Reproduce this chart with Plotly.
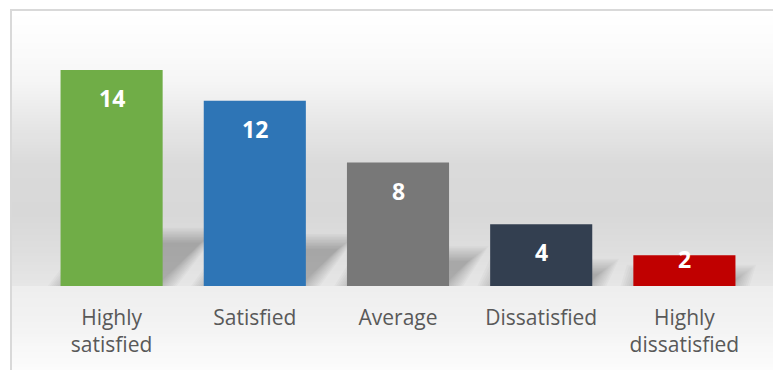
import plotly.graph_objects as go

# Survey results
categories = ["Highly<br>satisfied", "Satisfied", "Average", "Dissatisfied", "Highly<br>dissatisfied"]
counts = [14, 12, 8, 4, 2]
bar_colors = ["#70ad47", "#2e75b6", "#787878", "#333f50", "#c00000"]

W, H = 773, 370
M_L, M_R, M_T, M_B = 40, 17, 39, 84
PW = W - M_L - M_R
PH = H - M_T - M_B
Y_MAX = 16
N = len(counts)
PX_PER_CAT = PW / N
PX_PER_UNIT = PH / Y_MAX


def px_to_paper_x(px):
    return (px - M_L) / PW


def px_to_paper_y(py):
    return (H - M_B - py) / PH


fig = go.Figure()
fig.add_trace(go.Bar(
    x=list(range(N)),
    y=counts,
    marker=dict(color=bar_colors, line=dict(width=0)),
    width=0.713,
    hoverinfo="skip",
))

shapes = []

# vertical background gradient (white -> light grey -> near white)
stops = [(10, 255), (40, 252), (80, 246), (120, 232), (165, 218), (215, 216),
         (250, 222), (286, 230), (287, 238), (320, 242), (370, 252)]


def grey_at(py):
    for (y0, c0), (y1, c1) in zip(stops, stops[1:]):
        if y0 <= py <= y1:
            t = (py - y0) / (y1 - y0) if y1 > y0 else 0
            return round(c0 + (c1 - c0) * t)
    return stops[-1][1]


step = 3
for py in range(10, H, step):
    g = grey_at(py + step / 2)
    shapes.append(dict(type="rect", xref="paper", yref="paper", layer="below",
                       x0=px_to_paper_x(11), x1=px_to_paper_x(W + 2),
                       y0=px_to_paper_y(min(py + step, H + 2)), y1=px_to_paper_y(py),
                       line=dict(width=0), fillcolor=f"rgb({g},{g},{g})"))

# soft cast shadow behind each bar, built from stacked translucent layers
half = 0.713 / 2
for i, v in enumerate(counts):
    dx = v * 0.022
    top = v * 0.2
    for k in range(11):
        rx = k * 2.0 / PX_PER_CAT
        ry = k * 1.5 / PX_PER_UNIT
        x0 = i - half + 0.05 - rx
        x1 = i + half - 0.04 + rx
        path = (f"M {x0},0 L {x1},0 "
                f"L {x1 + dx},{top + ry} L {x0 + dx},{top + ry} Z")
        shapes.append(dict(type="path", path=path, xref="x", yref="y", layer="below",
                           fillcolor="rgba(0,0,0,0.024)", line=dict(width=0)))

# chart frame (left and top edges)
shapes.append(dict(type="line", xref="paper", yref="paper",
                   x0=px_to_paper_x(11), x1=px_to_paper_x(11),
                   y0=px_to_paper_y(9), y1=px_to_paper_y(H + 5),
                   line=dict(color="#d9d9d9", width=2)))
shapes.append(dict(type="line", xref="paper", yref="paper",
                   x0=px_to_paper_x(10), x1=px_to_paper_x(W + 5),
                   y0=px_to_paper_y(10), y1=px_to_paper_y(10),
                   line=dict(color="#d9d9d9", width=2)))

# value labels inside the top of each bar
annotations = []
for i, v in enumerate(counts):
    shift = -28 if v >= 4 else -4
    annotations.append(dict(x=i, y=v, xref="x", yref="y", text=f"<b>{v}</b>",
                            showarrow=False, yshift=shift, yanchor="middle",
                            font=dict(family="Open Sans", size=23, color="white")))

fig.update_layout(
    width=W, height=H,
    margin=dict(l=M_L, r=M_R, t=M_T, b=M_B),
    paper_bgcolor="white",
    plot_bgcolor="rgba(0,0,0,0)",
    showlegend=False,
    shapes=shapes,
    annotations=annotations,
    xaxis=dict(
        tickmode="array",
        tickvals=list(range(N)),
        ticktext=categories,
        range=[-0.5, N - 0.5],
        showgrid=False, zeroline=False, showline=False, ticks="",
        tickfont=dict(family="Open Sans", size=21, color="#595959"),
        ticklabelstandoff=17,
    ),
    yaxis=dict(range=[0, Y_MAX], visible=False, showgrid=False, zeroline=False),
)

fig.write_html("out.html")
